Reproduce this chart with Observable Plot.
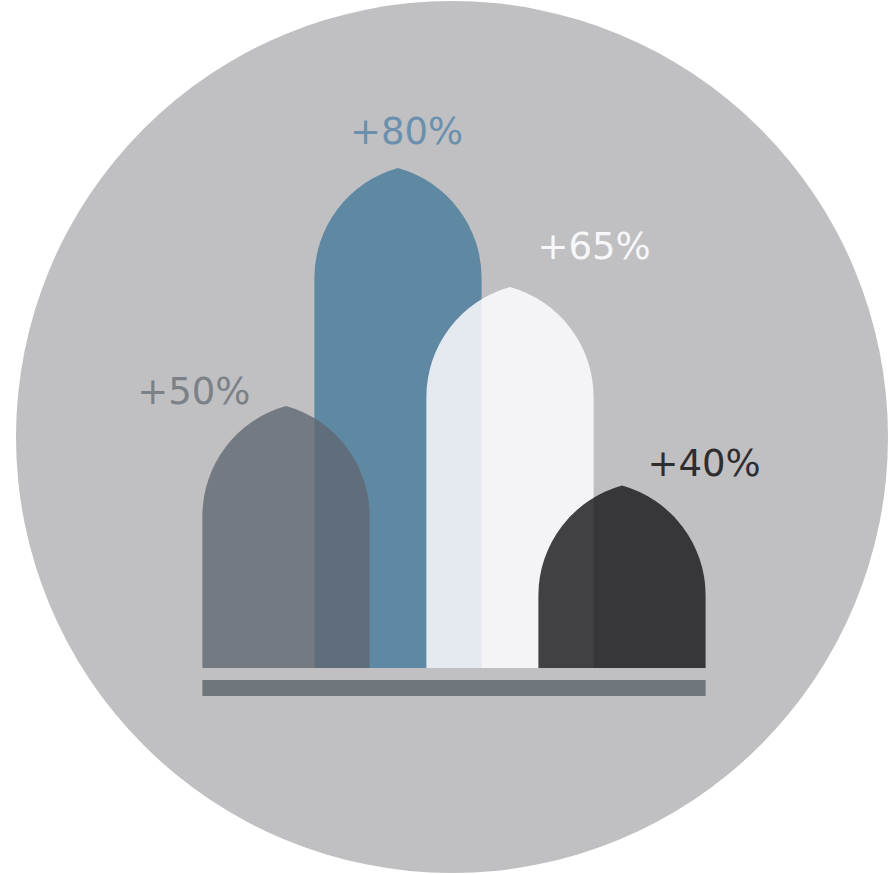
<!DOCTYPE html>
<html>
<head>
<meta charset="utf-8">
<script src="https://cdn.jsdelivr.net/npm/d3@7"></script>
<script src="https://cdn.jsdelivr.net/npm/@observablehq/plot@0.6"></script>
<style>
  html, body { margin: 0; padding: 0; background: #ffffff; }
  #chart svg { display: block; }
</style>
</head>
<body>
<div id="chart"></div>
<script>
// ---- data ----
const categories = ["A", "B", "C", "D"];
const values = [50, 80, 65, 40];
const labels = ["+50%", "+80%", "+65%", "+40%"];
const floorValue = 17; // value at the common baseline of the bars

const data = categories.map((c, i) => ({category: c, value: values[i], label: labels[i]}));

// ---- styling ----
const barFills = ["#606870", "#5f88a3", "#fdfcff", "#171619"];
const barOpacity = [0.8, 1, 0.85, 0.81];
const drawOrder = [1, 0, 2, 3];
const labelStyles = [
  {fill: "#7b8187", textAnchor: "end", dx: -36, dy: -3},
  {fill: "#6b90ae", textAnchor: "middle", dx: 8, dy: -25},
  {fill: "#f7f7f9", textAnchor: "start", dx: 27, dy: -29},
  {fill: "#2e2d30", textAnchor: "start", dx: 25, dy: -10}
];

function archBars(index, scales) {
  const {x, y} = scales;
  const step = x(categories[1]) - x(categories[0]);
  const hw = step * 1.493 / 2;
  const archH = 110;
  const r = (hw * hw + archH * archH) / (2 * hw);
  const base = y(floorValue);
  const g = d3.create("svg:g");
  for (const i of drawOrder) {
    const cx = x(categories[i]) + step / 2;
    const apex = y(values[i]);
    const sh = apex + archH;
    g.append("path")
      .attr("d", `M${cx - hw},${base}L${cx - hw},${sh}A${r},${r} 0 0 1 ${cx},${apex}A${r},${r} 0 0 1 ${cx + hw},${sh}L${cx + hw},${base}Z`)
      .attr("fill", barFills[i])
      .attr("fill-opacity", barOpacity[i]);
  }
  const left = x(categories[0]) + step / 2 - hw;
  const right = x(categories[categories.length - 1]) + step / 2 + hw;
  g.append("rect")
    .attr("x", left).attr("y", base + 12)
    .attr("width", right - left).attr("height", 16)
    .attr("fill", "#6f767c");
  return g.node();
}

const labelMarks = data.map((d, i) =>
  Plot.text([d], {
    x: "category",
    y: "value",
    text: "label",
    lineAnchor: "bottom",
    fontFamily: "DejaVu Sans",
    fontSize: 37,
    ...labelStyles[i]
  })
);

const chart = Plot.plot({
  width: 888,
  height: 874,
  marginTop: 0,
  marginRight: 0,
  marginBottom: 0,
  marginLeft: 0,
  style: {background: "transparent", overflow: "visible"},
  x: {type: "band", domain: categories, range: [229, 679], padding: 0, axis: null},
  y: {domain: [17, 80], range: [668, 168], axis: null},
  marks: [
    Plot.dot([0], {frameAnchor: "middle", r: 436, fill: "#c0c0c2", dx: 7.5, dy: -0.5}),
    archBars,
    ...labelMarks
  ]
});

document.getElementById("chart").appendChild(chart);
</script>
</body>
</html>
